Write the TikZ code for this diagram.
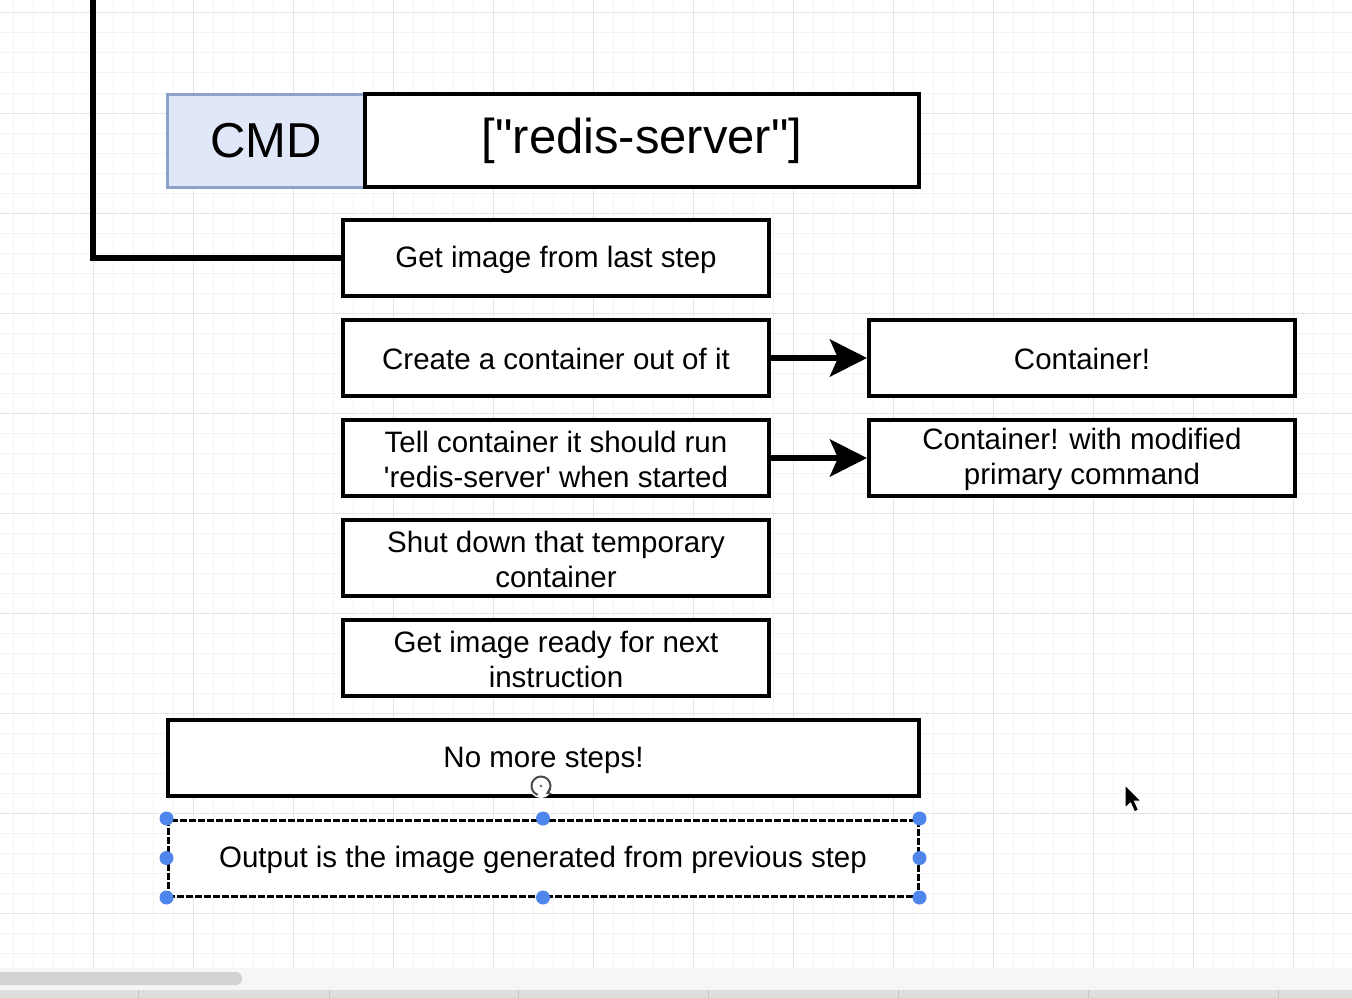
\documentclass[tikz,border=0pt]{standalone}
\usepackage{fontspec}
\usetikzlibrary{arrows.meta}
\newfontfamily\labelfont{Liberation Sans}
\newcommand\bs{\rule[-2pt]{0pt}{27pt}}
\definecolor{gridminor}{HTML}{F4F4F4}
\definecolor{gridmajor}{HTML}{E4E4E4}
\definecolor{cmdfill}{HTML}{DFE7F8}
\definecolor{cmdline}{HTML}{8DA2CB}
\definecolor{handle}{HTML}{4F86EC}
\tikzset{
  stepbox/.style={draw=black, line width=4, fill=white, minimum width=426,
    minimum height=76, inner sep=0, align=center,
    font=\labelfont\fontsize{29.5}{35}\selectfont},
  widebox/.style={stepbox, minimum width=751},
  bigbox/.style={stepbox, minimum height=93, font=\labelfont\fontsize{49}{58}\selectfont},
  conn/.style={line width=6, -{Stealth[length=37, width=37, inset=8]}},
}

\begin{document}
\begin{tikzpicture}[x=1pt, y=-1pt]
\useasboundingbox (0,0) rectangle (1352,998);

% grid
\foreach \x in {13,33,...,1353} \draw[gridminor, line width=1] (\x,0) -- (\x,968);
\foreach \y in {13,33,...,953} \draw[gridminor, line width=1] (0,\y) -- (1352,\y);
\foreach \x in {93,193,...,1293} \draw[gridmajor, line width=1] (\x,0) -- (\x,968);
\foreach \y in {13,113,...,913} \draw[gridmajor, line width=1] (0,\y) -- (1352,\y);

% scroll bar
\fill[gray!7] (0,968) rectangle (1352,990);
\fill[gray!35, rounded corners=6] (-8,972) rectangle (242,985);
\fill[gray!25] (0,990) rectangle (1352,998);
\foreach \x in {138,329,518,708,898,1088,1278} \draw[gray!45, line width=1] (\x,990) -- (\x,998);

% instruction
\node[bigbox, draw=cmdline, line width=3, fill=cmdfill, minimum width=198] (cmdkey) at (266,140.5) {CMD};
\node[bigbox, minimum width=554] (cmdval) at (642,140.5) {["redis-server"]};

% steps
\node[stepbox] (lastimg) at (556,258) {Get image from last step\bs};
\node[stepbox] (mkcont) at (556,358) {Create a container out of it\bs};
\node[stepbox] (setcmd) at (556,458) {Tell container it should run\bs\\'redis-server' when started\bs};
\node[stepbox] (shutdown) at (556,558) {Shut down that temporary\bs\\container\bs};
\node[stepbox] (readyimg) at (556,658) {Get image ready for next\bs\\instruction\bs};

\node[stepbox] (cont) at (1082,358) {Container!\bs};
\node[stepbox] (contmod) at (1082,458) {Container! with modified\bs\\primary command\bs};

\node[widebox] (nomore) at (543.5,758) {No more steps!\bs};
\node[widebox, minimum width=750, draw=black, line width=3, dash pattern=on 7 off 2,
  preaction={draw=cmdline, line width=3}] (output) at (543,858)
  {Output is the image generated from previous step\bs};

% connectors
\coordinate (topend) at (93,-4);
\draw[line width=6] (topend) |- (lastimg.west);
\draw[conn] (mkcont) -- (cont);
\draw[conn] (setcmd) -- (contmod);

% selection handles
\foreach \a in {north west,north,north east,west,east,south west,south,south east}
  \fill[handle] (output.\a) circle[radius=7];

% rotate handle
\fill[white] (541,786) circle[radius=12];
\draw[black!70, line width=2, -{Stealth[length=6, width=7]}] (541,786) ++(110:9.5) arc[start angle=110, end angle=420, radius=9.5];
\fill[black!60] (541,786) circle[radius=1.3];

% mouse pointer
\filldraw[fill=black, draw=white, line width=1] (1125,785) -- (1125,808) -- (1130.5,803) -- (1134.5,812) -- (1138.5,810) -- (1134.5,801) -- (1141,801) -- cycle;
\end{tikzpicture}
\end{document}
